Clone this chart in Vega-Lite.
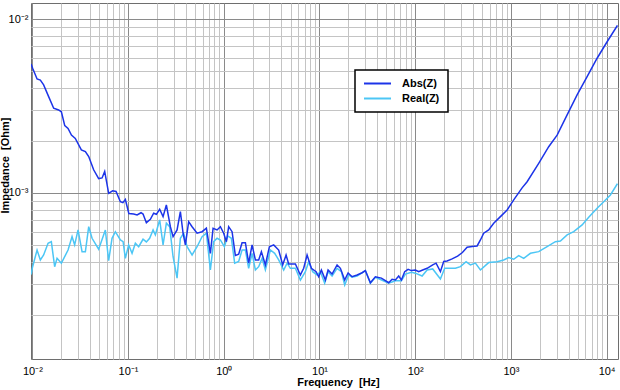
{
"$schema": "https://vega.github.io/schema/vega-lite/v6.json",
"width": 587, "height": 356,
"autosize": {"type": "none"},
"padding": {"left": 31, "top": 3, "right": 2, "bottom": 31},
"background": "white",
"config": {
  "view": {"stroke": "#6e6e6e", "strokeWidth": 1},
  "font": "Liberation Sans",
  "axis": {"domain": false, "ticks": false, "labelFont": "Liberation Sans", "labelColor": "black", "labelFontSize": 11, "titleFont": "Liberation Sans", "titleFontWeight": "bold", "titleFontSize": 11, "titleColor": "black", "gridWidth": 1, "gridOpacity": 1, "labelOverlap": false, "labelFlush": false},
  "legend": {"strokeWidth": 1.5}
},
"datasets": {
"abs": [
{"f":0.00969,"z":0.00551},{"f":0.01007,"z":0.00521},{"f":0.0112,"z":0.00452},{"f":0.01212,"z":0.00446},{"f":0.01312,"z":0.00418},{"f":0.0148,"z":0.00358},{"f":0.0167,"z":0.00307},{"f":0.0188,"z":0.0030},{"f":0.0201,"z":0.00293},{"f":0.0218,"z":0.00244},{"f":0.0236,"z":0.00235},{"f":0.0256,"z":0.00215},{"f":0.0281,"z":0.00206},{"f":0.0325,"z":0.00177},{"f":0.0358,"z":0.00173},{"f":0.0388,"z":0.00162},{"f":0.0437,"z":0.00136},{"f":0.0493,"z":0.00121},{"f":0.0535,"z":0.00122},{"f":0.057,"z":0.00133},{"f":0.0627,"z":0.000996},{"f":0.069,"z":0.00103},{"f":0.0749,"z":0.00102},{"f":0.0831,"z":0.000891},{"f":0.0883,"z":0.00088},{"f":0.0937,"z":0.000918},{"f":0.1019,"z":0.000762},{"f":0.1144,"z":0.000757},{"f":0.1242,"z":0.000747},{"f":0.1367,"z":0.00077},{"f":0.1434,"z":0.000757},{"f":0.1553,"z":0.000675},{"f":0.171,"z":0.000706},{"f":0.1851,"z":0.000765},{"f":0.1975,"z":0.000754},{"f":0.2139,"z":0.000806},{"f":0.2321,"z":0.000731},{"f":0.2513,"z":0.000853},{"f":0.2767,"z":0.00064},{"f":0.2953,"z":0.000561},{"f":0.3251,"z":0.000613},{"f":0.352,"z":0.000781},{"f":0.3756,"z":0.000587},{"f":0.3969,"z":0.000503},{"f":0.4298,"z":0.000684},{"f":0.4665,"z":0.00064},{"f":0.526,"z":0.000587},{"f":0.5933,"z":0.000599},{"f":0.658,"z":0.000627},{"f":0.7244,"z":0.00045},{"f":0.773,"z":0.000627},{"f":0.851,"z":0.000613},{"f":0.9215,"z":0.00064},{"f":0.998,"z":0.000587},{"f":1.065,"z":0.000525},{"f":1.125,"z":0.00064},{"f":1.221,"z":0.000599},{"f":1.322,"z":0.000437},{"f":1.431,"z":0.000445},{"f":1.553,"z":0.000518},{"f":1.682,"z":0.000518},{"f":1.82,"z":0.000395},{"f":1.976,"z":0.000503},{"f":2.139,"z":0.000412},{"f":2.316,"z":0.000412},{"f":2.472,"z":0.00046},{"f":2.721,"z":0.000386},{"f":2.996,"z":0.000491},{"f":3.323,"z":0.000503},{"f":3.748,"z":0.00047},{"f":4.126,"z":0.000386},{"f":4.477,"z":0.00044},{"f":4.766,"z":0.000391},{"f":5.601,"z":0.000391},{"f":6.316,"z":0.000338},{"f":6.838,"z":0.000369},{"f":7.42,"z":0.00044},{"f":8.23,"z":0.000369},{"f":9.214,"z":0.000353},{"f":9.808,"z":0.00033},{"f":10.47,"z":0.000361},{"f":11.52,"z":0.000316},{"f":12.3,"z":0.000361},{"f":13.54,"z":0.000342},{"f":15.27,"z":0.000386},{"f":16.54,"z":0.000369},{"f":18.34,"z":0.000316},{"f":19.9,"z":0.000347},{"f":21.91,"z":0.00033},{"f":24.72,"z":0.000338},{"f":27.87,"z":0.000348},{"f":30.17,"z":0.000358},{"f":34.03,"z":0.000305},{"f":38.38,"z":0.00033},{"f":44.36,"z":0.000324},{"f":52.86,"z":0.000305},{"f":57.35,"z":0.000319},{"f":62.11,"z":0.000316},{"f":67.24,"z":0.000333},{"f":71.75,"z":0.000316},{"f":77.69,"z":0.000353},{"f":84.3,"z":0.000364},{"f":91.28,"z":0.000358},{"f":100.5,"z":0.000361},{"f":108.8,"z":0.000353},{"f":119.8,"z":0.000361},{"f":133.2,"z":0.000369},{"f":152.4,"z":0.000386},{"f":165.3,"z":0.000395},{"f":183.4,"z":0.000353},{"f":198.6,"z":0.000404},{"f":215.4,"z":0.000407},{"f":243,"z":0.000418},{"f":277.4,"z":0.000434},{"f":311.3,"z":0.000455},{"f":348.6,"z":0.000488},{"f":393.3,"z":0.000493},{"f":443.6,"z":0.000496},{"f":480.3,"z":0.000537},{"f":519.7,"z":0.000587},{"f":586,"z":0.000613},{"f":661,"z":0.00067},{"f":777,"z":0.000731},{"f":913,"z":0.000799},{"f":1070,"z":0.000912},{"f":1309,"z":0.00107},{"f":1477,"z":0.00116},{"f":1952,"z":0.00148},{"f":2483,"z":0.001845},{"f":3040,"z":0.00215},{"f":3867,"z":0.00281},{"f":4917,"z":0.00366},{"f":6255,"z":0.00466},{"f":7956,"z":0.00595},{"f":10121,"z":0.0074},{"f":12967,"z":0.00918}
],
"real": [
{"f":0.0097,"z":0.00034},{"f":0.01007,"z":0.000377},{"f":0.0112,"z":0.00047},{"f":0.01212,"z":0.000412},{"f":0.01312,"z":0.00044},{"f":0.01459,"z":0.000514},{"f":0.01579,"z":0.000525},{"f":0.0171,"z":0.000377},{"f":0.01812,"z":0.000421},{"f":0.0201,"z":0.000395},{"f":0.0236,"z":0.00047},{"f":0.026,"z":0.000561},{"f":0.02767,"z":0.000503},{"f":0.03003,"z":0.000613},{"f":0.03306,"z":0.00046},{"f":0.0358,"z":0.00046},{"f":0.0388,"z":0.00064},{"f":0.04206,"z":0.000549},{"f":0.0493,"z":0.000475},{"f":0.0579,"z":0.000613},{"f":0.0627,"z":0.000408},{"f":0.068,"z":0.000549},{"f":0.07367,"z":0.000599},{"f":0.0831,"z":0.000537},{"f":0.0887,"z":0.000525},{"f":0.0937,"z":0.000421},{"f":0.1014,"z":0.000503},{"f":0.1101,"z":0.00045},{"f":0.1192,"z":0.000514},{"f":0.1291,"z":0.000491},{"f":0.1434,"z":0.000542},{"f":0.1553,"z":0.000523},{"f":0.1681,"z":0.000549},{"f":0.1825,"z":0.000613},{"f":0.1928,"z":0.000574},{"f":0.2139,"z":0.0007},{"f":0.2321,"z":0.000503},{"f":0.2513,"z":0.00067},{"f":0.2721,"z":0.00064},{"f":0.2953,"z":0.00043},{"f":0.3251,"z":0.000324},{"f":0.352,"z":0.000549},{"f":0.3811,"z":0.000587},{"f":0.4136,"z":0.000491},{"f":0.4665,"z":0.00044},{"f":0.526,"z":0.000491},{"f":0.5933,"z":0.000561},{"f":0.658,"z":0.000587},{"f":0.7244,"z":0.000361},{"f":0.7843,"z":0.000525},{"f":0.851,"z":0.000549},{"f":0.9215,"z":0.000537},{"f":1.015,"z":0.000491},{"f":1.098,"z":0.000566},{"f":1.201,"z":0.000549},{"f":1.3,"z":0.000395},{"f":1.431,"z":0.000404},{"f":1.553,"z":0.00047},{"f":1.682,"z":0.00047},{"f":1.82,"z":0.000369},{"f":1.976,"z":0.00045},{"f":2.139,"z":0.000361},{"f":2.316,"z":0.000377},{"f":2.513,"z":0.000421},{"f":2.721,"z":0.000361},{"f":3.069,"z":0.00047},{"f":3.404,"z":0.00045},{"f":3.748,"z":0.000412},{"f":4.226,"z":0.000361},{"f":4.586,"z":0.000395},{"f":4.966,"z":0.000369},{"f":5.601,"z":0.000369},{"f":6.316,"z":0.000316},{"f":7.124,"z":0.000353},{"f":7.714,"z":0.000403},{"f":8.492,"z":0.000353},{"f":9.439,"z":0.000338},{"f":10.22,"z":0.000353},{"f":11.33,"z":0.000303},{"f":12.3,"z":0.000353},{"f":13.54,"z":0.000333},{"f":15.27,"z":0.000369},{"f":16.94,"z":0.000353},{"f":18.34,"z":0.000296},{"f":20.2,"z":0.000338},{"f":21.91,"z":0.000328},{"f":24.72,"z":0.000333},{"f":30.17,"z":0.000358},{"f":34.03,"z":0.000303},{"f":38.38,"z":0.000328},{"f":52.86,"z":0.000303},{"f":62.11,"z":0.000313},{"f":71.75,"z":0.000313},{"f":79,"z":0.000342},{"f":91.28,"z":0.00035},{"f":100.5,"z":0.000346},{"f":118.1,"z":0.000333},{"f":133.2,"z":0.000361},{"f":152.4,"z":0.000366},{"f":183.4,"z":0.00032},{"f":203.4,"z":0.000369},{"f":233.2,"z":0.000369},{"f":263,"z":0.000369},{"f":296.7,"z":0.000377},{"f":340.3,"z":0.000403},{"f":377.4,"z":0.000386},{"f":425.7,"z":0.000395},{"f":480.3,"z":0.000361},{"f":586,"z":0.000398},{"f":717.5,"z":0.000403},{"f":841,"z":0.000412},{"f":948,"z":0.000425},{"f":1070,"z":0.000416},{"f":1206,"z":0.000436},{"f":1361,"z":0.000421},{"f":1599,"z":0.00045},{"f":1952,"z":0.00046},{"f":2389,"z":0.000491},{"f":2917,"z":0.000525},{"f":3290,"z":0.00053},{"f":3867,"z":0.000574},{"f":4531,"z":0.000599},{"f":5546,"z":0.000655},{"f":6502,"z":0.000725},{"f":7956,"z":0.000817},{"f":9325,"z":0.000891},{"f":10956,"z":0.000974},{"f":12967,"z":0.00113}
]
},
"layer": [
{
 "data": {"name": "real"},
 "mark": {"type": "line", "strokeWidth": 1.5, "clip": true},
 "encoding": {
  "x": {"field": "f", "type": "quantitative",
    "scale": {"type": "log", "domain": [0.00968, 13150], "nice": false},
    "axis": {"title": "Frequency\u00a0 [Hz]",
      "values": [0.01,0.02,0.03,0.04,0.05,0.06,0.07,0.08,0.09,0.1,0.2,0.3,0.4,0.5,0.6,0.7,0.8,0.9,1,2,3,4,5,6,7,8,9,10,20,30,40,50,60,70,80,90,100,200,300,400,500,600,700,800,900,1000,2000,3000,4000,5000,6000,7000,8000,9000,10000],
      "labelExpr": "datum.value == 0.01 ? '10⁻²' : datum.value == 0.1 ? '10⁻¹' : datum.value == 1 ? '10⁰' : datum.value == 10 ? '10¹' : datum.value == 100 ? '10²' : datum.value == 1000 ? '10³' : datum.value == 10000 ? '10⁴' : ''",
      "gridColor": {"condition": {"test": "abs(log(datum.value)/LN10 - round(log(datum.value)/LN10)) < 0.000001", "value": "#8a8a8a"}, "value": "#c4c4c4"},
      "labelBaseline": "alphabetic", "labelPadding": 15,
      "titleX": 307, "titleY": 26, "titleBaseline": "alphabetic", "titleAlign": "center"}},
  "y": {"field": "z", "type": "quantitative",
    "scale": {"type": "log", "domain": [0.0001111, 0.01236], "nice": false},
    "axis": {"title": "Impedance\u00a0 [Ohm]",
      "values": [0.0002,0.0003,0.0004,0.0005,0.0006,0.0007,0.0008,0.0009,0.001,0.002,0.003,0.004,0.005,0.006,0.007,0.008,0.009,0.01],
      "labelExpr": "datum.value == 0.001 ? '10⁻³' : datum.value == 0.01 ? '10⁻²' : ''",
      "gridColor": {"condition": {"test": "abs(log(datum.value)/LN10 - round(log(datum.value)/LN10)) < 0.000001", "value": "#8a8a8a"}, "value": "#c4c4c4"},
      "labelBaseline": "middle", "labelPadding": 3,
      "titleX": -23, "titleY": 162, "titleBaseline": "alphabetic", "titleAngle": 270, "titleAlign": "center"}},
  "color": {"datum": "Real(Z)", "type": "nominal",
    "scale": {"domain": ["Abs(Z)", "Real(Z)"], "range": ["#1c34e8", "#4cc6f5"]},
    "legend": {"title": null, "orient": "none", "legendX": 324, "legendY": 67, "symbolType": "M-1,0L5,0", "symbolSize": 81, "symbolStrokeWidth": 2, "labelFont": "Liberation Sans", "labelFontSize": 11, "labelFontWeight": "bold", "labelColor": "black", "fillColor": "white", "strokeColor": "black", "padding": 8, "labelOffset": 28, "rowPadding": 3}}
 }
},
{
 "data": {"name": "abs"},
 "mark": {"type": "line", "strokeWidth": 1.5, "clip": true},
 "encoding": {
  "x": {"field": "f", "type": "quantitative"},
  "y": {"field": "z", "type": "quantitative"},
  "color": {"datum": "Abs(Z)", "type": "nominal"}
 }
}
]
}
